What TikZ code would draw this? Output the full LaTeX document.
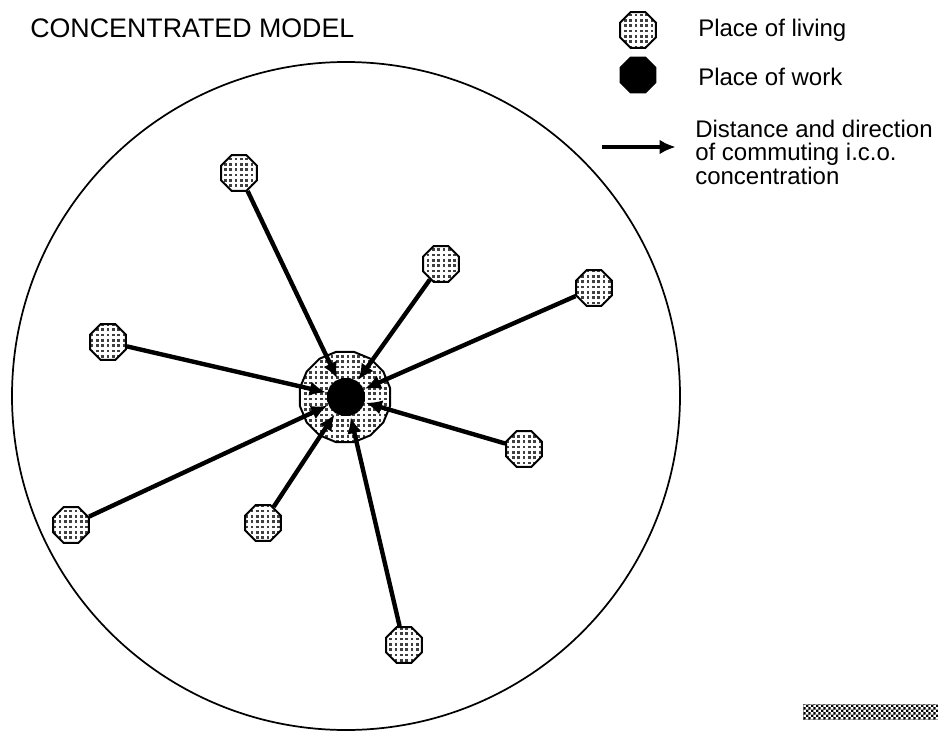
\documentclass[tikz,border=0pt]{standalone}
\usepackage{fontspec}
\setmainfont{Liberation Sans}
\usetikzlibrary{shapes.geometric,patterns,arrows.meta}
\pgfdeclarepatternformonly{livedots}{\pgfqpoint{-1pt}{-1pt}}{\pgfqpoint{4pt}{4pt}}{\pgfqpoint{4pt}{4pt}}{
  \pgfpathrectangle{\pgfqpoint{0pt}{0pt}}{\pgfqpoint{2pt}{2pt}}\pgfusepath{fill}}
\pgfdeclarepatternformonly{bardots}{\pgfqpoint{0pt}{0pt}}{\pgfqpoint{3.6pt}{3.6pt}}{\pgfqpoint{3.6pt}{3.6pt}}{
  \pgfpathrectangle{\pgfqpoint{0pt}{0pt}}{\pgfqpoint{1.8pt}{1.8pt}}
  \pgfpathrectangle{\pgfqpoint{1.8pt}{1.8pt}}{\pgfqpoint{1.8pt}{1.8pt}}\pgfusepath{fill}}
\tikzset{
  living/.style={regular polygon,regular polygon sides=8,draw=black,line width=1.5pt,inner sep=0pt,minimum size=29pt,pattern=livedots,pattern color=black!75},
  hub/.style={regular polygon,regular polygon sides=16,draw=black,line width=1.5pt,inner sep=0pt,minimum size=69pt,pattern=livedots,pattern color=black!75},
  work/.style={regular polygon,regular polygon sides=8,fill=black,inner sep=0pt,minimum size=30pt},
  commute/.style={line width=3.3pt,-{Latex[length=12pt,width=11pt]},shorten >=1pt},
  label/.style={anchor=west,inner sep=0pt,font=\fontsize{18pt}{17.6pt}\selectfont,align=left}
}
\begin{document}
\begin{tikzpicture}[x=0.75pt,y=-0.75pt]
\useasboundingbox (0,0) rectangle (938,731);
\node[circle,draw=black,line width=1.3pt,minimum size=501pt,inner sep=0pt] (region) at (346,396) {};
\node[hub] (hubzone) at (345,397) {};
\node[work,regular polygon sides=16,minimum size=29pt] (work) at (346,397) {};
\node[living] (a) at (239,173) {};
\node[living] (b) at (441,264) {};
\node[living] (c) at (594,288) {};
\node[living] (d) at (108,342) {};
\node[living] (e) at (524,449) {};
\node[living] (f) at (71,525) {};
\node[living] (g) at (263,523) {};
\node[living] (h) at (404,645) {};
\foreach \n in {a,b,c,d,e,f,g,h} \draw[commute] (\n) -- (work);
\node[anchor=west,inner sep=0pt,font=\fontsize{20.1pt}{20pt}\selectfont] (title) at (30,28) {CONCENTRATED MODEL};
\node[living] (k1) at (638,30) {};
\node[work] (k2) at (638,75) {};
\node[label] (t1) at (698,30) {Place of living};
\node[label] (t2) at (698,77) {Place of work};
\coordinate (k3a) at (602,147);
\coordinate (k3b) at (677,147);
\draw[commute] (k3a) -- (k3b);
\node[label] (t3) at (695,152) {Distance and direction\\of commuting i.c.o.\\concentration};
\fill[pattern=bardots,pattern color=black] (803,704) rectangle (938,719);
\end{tikzpicture}
\end{document}
